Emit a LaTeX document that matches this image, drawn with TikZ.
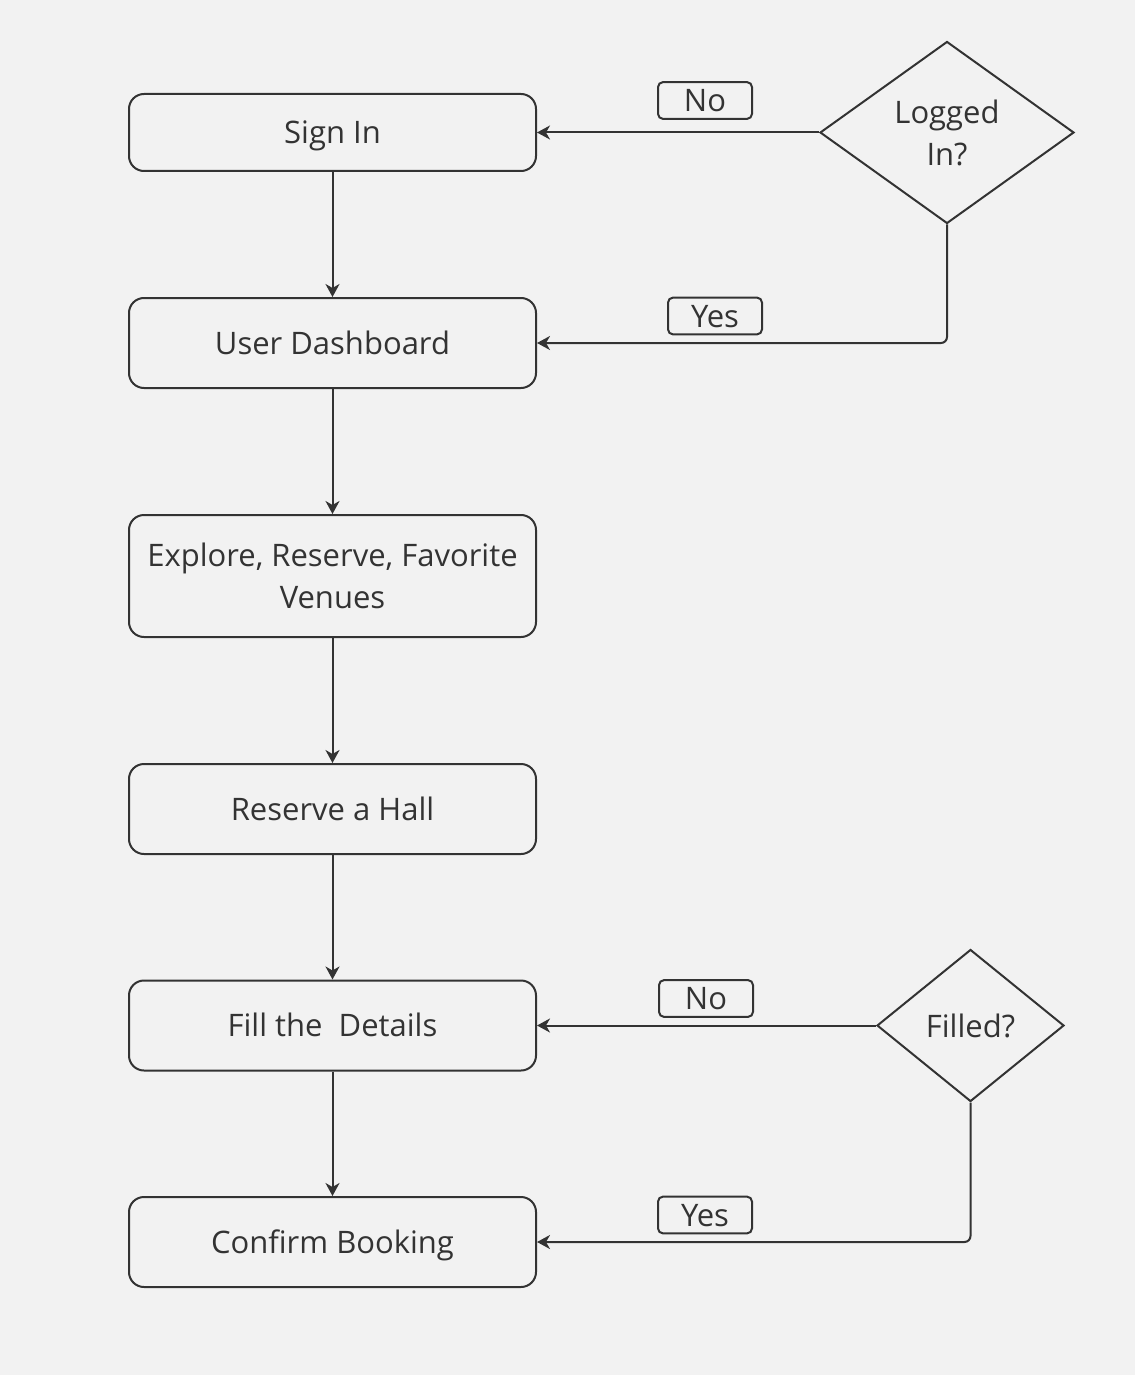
\documentclass[tikz,border=0pt]{standalone}
\usepackage{fontspec}
\setmainfont{Open Sans}
\usetikzlibrary{shapes.geometric,arrows.meta}

\definecolor{ink}{HTML}{333333}
\definecolor{paper}{HTML}{F2F2F2}

\tikzset{
  txt/.style={text=ink, align=center, font=\fontsize{15.5}{21}\selectfont},
  box/.style={txt, draw=ink, line width=1pt, rounded corners=7.5pt, minimum width=203.5pt, inner sep=0pt},
  line/.style={text height=14.7pt, text depth=3.7pt},
  decision/.style={txt, draw=ink, line width=1pt, diamond, inner sep=0pt},
  tag/.style={txt, draw=ink, line width=1pt, rounded corners=2.5pt, minimum width=47pt, minimum height=17.5pt, inner sep=0pt, line},
  link/.style={draw=ink, line width=1pt, -{Stealth[length=6.5pt,width=7pt,inset=2pt]}}
}

\begin{document}
\begin{tikzpicture}[x=0.5pt, y=-0.5pt]

  \fill[paper] (0,0) rectangle (1135,1375);
  \useasboundingbox (0,0) rectangle (1135,1375);

 \def\cx{332.5};

  %draw steps
    \foreach \y/\h/\txt/\name in { 132.5/38.5/Sign In/signin, 343/45/User Dashboard/dash, 809/45/Reserve a Hall/hall, 1025.5/45/Fill the\ \ Details/fill, 1242/45/Confirm Booking/confirm}{
           \node[box, line, minimum height=\h pt] (\name) at (\cx, \y) {\txt};
    }
    \node[box, minimum height=61pt] (explore) at (\cx, 576) {Explore, Reserve, Favorite\\Venues};

  %decisions
    \node[decision, minimum width=127pt, minimum height=91pt] (logged) at (947, 132.5) {Logged\\In?};
    \node[decision, minimum width=93.5pt, minimum height=76pt] (filled) at (970.5, 1025.5) {Filled?};

  %main flow
    \foreach \a/\b in { signin/dash, dash/explore, explore/hall, hall/fill, fill/confirm}{
           \draw[link] (\a) -- (\b);
    }

  %branches
    \draw[link] (logged.west) -- (signin.east);
    \draw[link, rounded corners=3pt] (logged.south) |- (dash.east);
    \draw[link] (filled.west) -- (fill.east);
    \draw[link, rounded corners=3pt] (filled.south) |- (confirm.east);

  %labels
    \foreach \x/\y/\txt/\name in { 705/100.5/No/no1, 715/316/Yes/yes1, 706/998.5/No/no2, 705/1215/Yes/yes2}{
           \node[tag] (\name) at (\x, \y) {\txt};
    }

\end{tikzpicture}
\end{document}
